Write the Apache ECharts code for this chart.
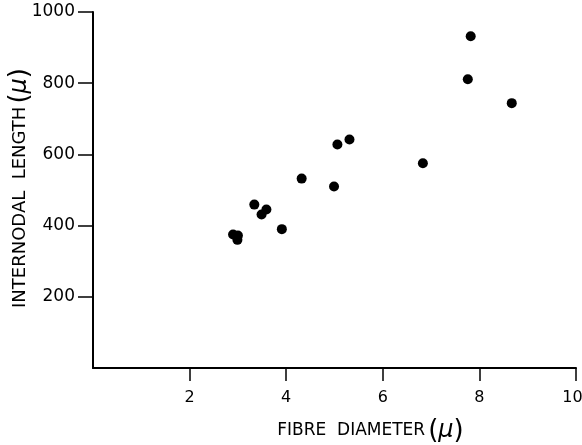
<!DOCTYPE html>
<html>
<head>
<meta charset="utf-8">
<script src="https://cdn.jsdelivr.net/npm/echarts@6/dist/echarts.min.js"></script>
<style>html,body{margin:0;padding:0;background:#fff}#c{width:582px;height:445px}</style>
</head>
<body>
<div id="c"></div>
<script>
var fibreDiameter = [2.90, 3.00, 2.99, 3.34, 3.49, 3.59, 3.91, 4.32, 4.99, 5.06, 5.31, 6.83, 7.76, 7.82, 8.67];
var internodalLength = [375, 372, 360, 459, 431, 445, 390, 532, 510, 628, 642, 575, 811, 932, 744];
var xTicks = [2, 4, 6, 8, 10];
var yTicks = [200, 400, 600, 800, 1000];
var xTitle = 'FIBRE  DIAMETER';
var yTitle = 'INTERNODAL  LENGTH';

var pts = fibreDiameter.map(function (x, i) { return [x, internodalLength[i]]; });
var font = 'DejaVu Sans';
function mkRich(size) {
  return {
    t: { fontFamily: font, fontSize: size, color: '#000', padding: [0, 3, 0, 0] },
    p: { fontFamily: font, fontSize: 26, color: '#000' },
    m: { fontFamily: font, fontSize: 24, fontStyle: 'italic', color: '#000' }
  };
}
var chart = echarts.init(document.getElementById('c'));
chart.setOption({
  animation: false,
  grid: { left: 93, right: 6, top: 12, bottom: 77, containLabel: false, outerBoundsMode: 'none' },
  graphic: [{
    type: 'text', x: 20, y: 188, rotation: Math.PI / 2,
    style: { text: '{t|' + yTitle + '}{p|(}{m|μ}{p|)}', rich: mkRich(18), align: 'center', verticalAlign: 'middle' }
  }],
  xAxis: {
    type: 'value', min: 0, max: 10, interval: 2,
    name: '{t|' + xTitle + '}{p|(}{m|μ}{p|)}',
    nameLocation: 'middle', nameGap: 50,
    nameTextStyle: { rich: mkRich(17), padding: [0, 0, 0, 72] },
    axisLine: { show: true, onZero: false, lineStyle: { color: '#000', width: 2 } },
    axisTick: { show: true, length: 13, customValues: xTicks, lineStyle: { color: '#000', width: 1.5 } },
    axisLabel: { customValues: xTicks, margin: 22, color: '#000', fontFamily: font, fontSize: 16,
      formatter: function (v) { return v === 10 ? '{r|10}' : String(v); },
      rich: { r: { fontFamily: font, fontSize: 16, color: '#000', padding: [0, 7, 0, 0] } } },
    splitLine: { show: false }
  },
  yAxis: {
    type: 'value', min: 0, max: 1000, interval: 200,
    axisLine: { show: true, onZero: false, lineStyle: { color: '#000', width: 2 } },
    axisTick: { show: true, length: 15, customValues: yTicks, lineStyle: { color: '#000', width: 1.5 } },
    axisLabel: { customValues: yTicks, margin: 18, color: '#000', fontFamily: font, fontSize: 17,
      formatter: function (v) { return String(v); } },
    splitLine: { show: false }
  },
  series: [{
    type: 'scatter', data: pts, symbol: 'circle', symbolSize: 10,
    itemStyle: { color: '#000', opacity: 1 }
  }]
});
</script>
</body>
</html>
